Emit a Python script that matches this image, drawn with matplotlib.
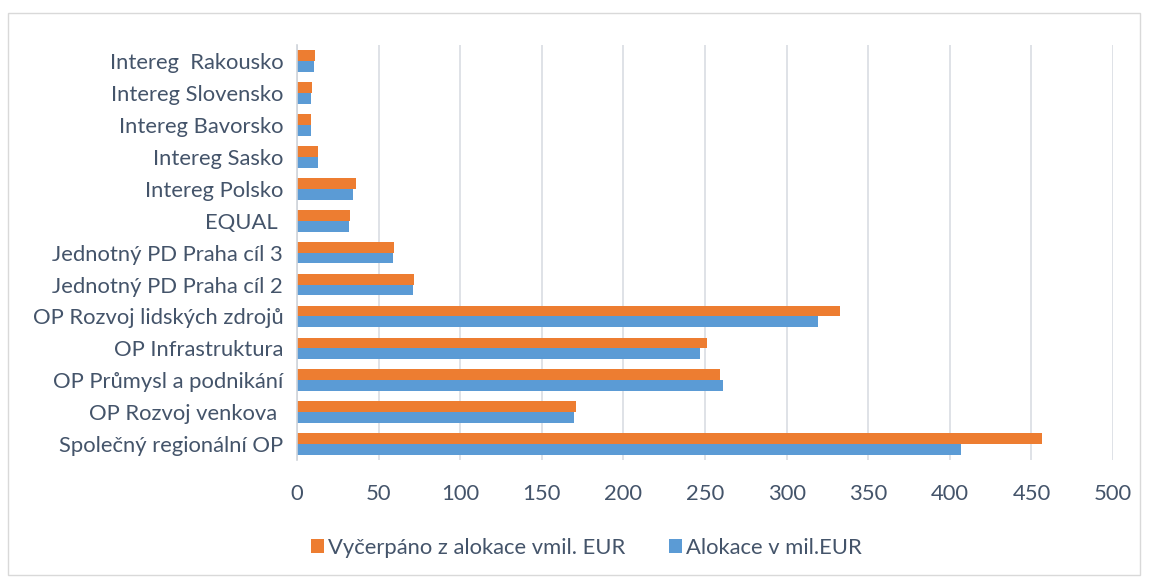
import numpy as np
import matplotlib.pyplot as plt
from matplotlib.patches import Rectangle

plt.rcParams['font.family'] = ['Lato', 'DejaVu Sans']

# categories listed from bottom to top
categories = [
    "Společný regionální OP",
    "OP Rozvoj venkova ",
    "OP Průmysl a podnikání",
    "OP Infrastruktura",
    "OP Rozvoj lidských zdrojů",
    "Jednotný PD Praha cíl 2",
    "Jednotný PD Praha cíl 3",
    "EQUAL ",
    "Intereg Polsko",
    "Intereg Sasko",
    "Intereg Bavorsko",
    "Intereg Slovensko",
    "Intereg  Rakousko",
]
vycerpano = [456.3, 170.7, 259.3, 251.3, 332.7, 71.6, 59.4, 32.7, 36.2, 12.9, 8.8, 9.4, 11.3]
alokace = [407.0, 169.9, 261.3, 246.8, 319.2, 71.0, 58.8, 32.1, 34.3, 12.9, 8.4, 8.8, 10.7]
xticks = [0, 50, 100, 150, 200, 250, 300, 350, 400, 450, 500]

text_col = "#44546A"
orange = "#ED7D31"
blue = "#5B9BD5"

fig = plt.figure(figsize=(11.49, 5.78), dpi=100)
ax = fig.add_axes([0.2585, 0.204, 0.7102, 0.718])

y = np.arange(len(categories))
h = 0.34
ax.barh(y + h / 2, vycerpano, height=h, color=orange, label="Vyčerpáno z alokace vmil. EUR", zorder=3)
ax.barh(y - h / 2, alokace, height=h, color=blue, label="Alokace v mil.EUR", zorder=3)

ax.set_xlim(0, 500)
ax.set_ylim(-0.5, len(categories) - 0.5)
ax.set_xticks(xticks)
ax.set_yticks(y)
ax.set_yticklabels(categories)
ax.tick_params(axis="both", length=0, labelsize=15.8, colors=text_col)
ax.tick_params(axis="y", pad=10)
ax.tick_params(axis="x", pad=17)
ax.grid(axis="x", color="#D9DDE3", linewidth=1.2, zorder=0)
for s in ["top", "right", "bottom"]:
    ax.spines[s].set_visible(False)
ax.spines["left"].set_color("#D0D4DA")
ax.spines["left"].set_linewidth(1.2)
ax.spines["left"].set_zorder(4)

leg = fig.legend(loc="center", bbox_to_anchor=(0.5104, 0.052), ncol=2, frameon=False,
                 fontsize=15.8, handlelength=0.6, handleheight=0.6, handletextpad=0.18,
                 columnspacing=2.0)
for t in leg.get_texts():
    t.set_color(text_col)

fig.patches.append(Rectangle((8 / 1149, 3 / 578), 1132 / 1149, 562 / 578, transform=fig.transFigure,
                             fill=False, edgecolor="#D9D9D9", linewidth=1.0))

fig.savefig("out.png", dpi=100)
